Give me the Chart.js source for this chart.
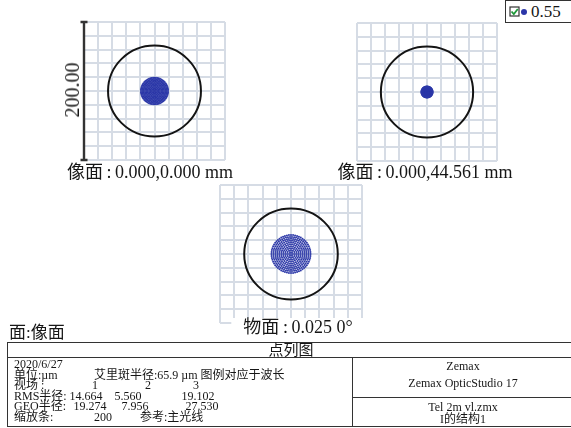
<!DOCTYPE html>
<html>
<head>
<meta charset="utf-8">
<script src="https://cdn.jsdelivr.net/npm/chart.js@4.4.1/dist/chart.umd.min.js"></script>
<style>
  body{margin:0;width:571px;height:428px;overflow:hidden;background:#fff;position:relative;
       font-family:"Liberation Serif","Noto Sans CJK SC",serif;color:#161616}
  .box{position:absolute}
  .cap{position:absolute;font-size:18px;line-height:18px;white-space:nowrap;transform:translateX(-50%)}
  .t{position:absolute;font-size:12px;line-height:11px;white-space:nowrap}
  .c{transform:translateX(-50%)}
  #legend{position:absolute;left:505px;top:0;width:80px;height:23px;border:1.5px solid #333;box-sizing:border-box}
  #tbl{position:absolute;left:7px;top:342px;width:590px;height:85px;border:1.5px solid #333;box-sizing:border-box}
</style>
</head>
<body>

<div class="box" style="left:80px;top:18px"><canvas id="spot1" width="149" height="146"></canvas></div>
<div class="box" style="left:353px;top:19px"><canvas id="spot2" width="148" height="146"></canvas></div>
<div class="box" style="left:216px;top:181px"><canvas id="spot3" width="150" height="146"></canvas></div>

<div class="cap" style="left:72px;top:90px;transform:translate(-50%,-50%) rotate(-90deg);font-size:20px">200.00</div>

<div class="cap" style="left:150px;top:163px">像面&thinsp;:&thinsp;0.000,0.000 mm</div>
<div class="cap" style="left:425px;top:163px">像面&thinsp;:&thinsp;0.000,44.561 mm</div>
<div class="cap" style="left:298px;top:318px;background:#fff;padding:0 12px">物面&thinsp;:&thinsp;0.025 0°</div>
<div class="cap" style="left:9px;top:324px;transform:none;font-size:17px">面:像面</div>

<div id="legend">
  <svg width="12" height="12" style="position:absolute;left:3px;top:5px">
    <rect x="1" y="1" width="9" height="9" fill="#fff" stroke="#333" stroke-width="1.2"/>
    <path d="M2.5 5.5 L4.8 8 L8.8 3" fill="none" stroke="#1f9a3a" stroke-width="1.8"/>
  </svg>
  <div style="position:absolute;left:15px;top:8px;width:6px;height:6px;border-radius:50%;background:#2b35a8"></div>
  <div style="position:absolute;left:25px;top:2px;font-size:17px;line-height:18px">0.55</div>
</div>

<div id="tbl"></div>
<div class="box" style="left:7px;top:357px;width:570px;border-top:1.5px solid #333"></div>
<div class="box" style="left:352px;top:357px;height:69px;border-left:1.5px solid #333"></div>
<div class="box" style="left:352px;top:397px;width:230px;border-top:1.5px solid #333"></div>
<div class="t c" style="left:291px;top:343px;font-size:15px;line-height:14px">点列图</div>

<div id="info"></div>

<script>
// spot diagram data (units: µm)
const fieldNames = ['1', '2', '3'];
const rmsRadius = [14.664, 5.560, 19.102];
const geoRadius = [19.274, 7.956, 27.530];
const airyRadius = 65.9;
const scaleBar = 200;
const gridStep = 20;
const wavelengths = ['0.55'];
const ringCount = 10; // hexapolar sampling rings

// hexapolar ray pattern scaled to the GEO radius of each field
function spotRays(rGeo){
  const pts = [{x:0, y:0}];
  for(let i = 1; i <= ringCount; i++){
    const r = rGeo * i / ringCount;
    const n = 6 * i;
    for(let k = 0; k < n; k++){
      const a = 2 * Math.PI * k / n;
      pts.push({x: r * Math.cos(a), y: r * Math.sin(a)});
    }
  }
  return pts;
}

// airy disk ring drawn around the chief ray
const airyPlugin = {
  id: 'airy',
  afterDatasetsDraw(chart){
    const {ctx, scales:{x, y}} = chart;
    const cx = x.getPixelForValue(0), cy = y.getPixelForValue(0);
    const rx = x.getPixelForValue(airyRadius) - cx;
    const ry = cy - y.getPixelForValue(airyRadius);
    ctx.save();
    ctx.strokeStyle = '#141414';
    ctx.lineWidth = 2;
    ctx.beginPath();
    ctx.ellipse(cx, cy, rx, ry, 0, 0, Math.PI * 2);
    ctx.stroke();
    ctx.restore();
  }
};

// vertical scale bar spanning the full box
const barPlugin = {
  id: 'scalebar',
  afterDraw(chart, args, opts){
    if(!opts.show) return;
    const {ctx, scales:{x, y}} = chart;
    const px = x.getPixelForValue(-scaleBar / 2);
    const top = y.getPixelForValue(scaleBar / 2), bot = y.getPixelForValue(-scaleBar / 2);
    ctx.save();
    ctx.strokeStyle = '#333';
    ctx.lineWidth = 2.4;
    ctx.beginPath();
    ctx.moveTo(px, top); ctx.lineTo(px, bot);
    ctx.moveTo(px - 3.5, top); ctx.lineTo(px + 3.5, top);
    ctx.moveTo(px - 3.5, bot); ctx.lineTo(px + 3.5, bot);
    ctx.stroke();
    ctx.restore();
  }
};

function makeSpot(id, field, showBar){
  const axis = {
    type: 'linear', min: -scaleBar / 2, max: scaleBar / 2,
    ticks: {display: false, stepSize: gridStep},
    grid: {color: '#d6dce5', lineWidth: 2, drawTicks: false},
    border: {display: false}
  };
  return new Chart(document.getElementById(id), {
    type: 'scatter',
    data: {datasets: [{
      label: wavelengths[0],
      data: spotRays(geoRadius[field]),
      pointRadius: 1, pointHoverRadius: 1,
      pointBackgroundColor: '#2c38a8', pointBorderWidth: 0
    }]},
    options: {
      responsive: false, animation: false,
      layout: {padding: 4},
      plugins: {legend: {display: false}, tooltip: {enabled: false}, scalebar: {show: showBar}},
      scales: {x: {...axis}, y: {...axis}}
    },
    plugins: [airyPlugin, barPlugin]
  });
}

makeSpot('spot1', 0, true);
makeSpot('spot2', 1, false);
makeSpot('spot3', 2, false);

// text block of the info panel
const info = document.getElementById('info');
function put(txt, x, y, cls){
  const d = document.createElement('div');
  d.className = 't' + (cls ? ' ' + cls : '');
  d.style.left = x + 'px';
  d.style.top = y + 'px';
  d.textContent = txt;
  info.appendChild(d);
}
const rowY = [359, 369.5, 380, 390.5, 401, 411.5];
const colX = [95, 148, 196];
put('2020/6/27', 14, rowY[0]);
put('单位:µm', 14, rowY[1]);
put('艾里斑半径:' + airyRadius + ' µm  图例对应于波长', 94, rowY[1]);
put('视场   :', 14, rowY[2]);
fieldNames.forEach((f, i) => put(f, colX[i], rowY[2], 'c'));
put('RMS半径:', 14, rowY[3]);
const rmsX = [86, 128, 198];
rmsRadius.forEach((v, i) => put(v.toFixed(3), rmsX[i], rowY[3], 'c'));
put('GEO半径:', 14, rowY[4]);
const geoX = [90, 135, 202];
geoRadius.forEach((v, i) => put(v.toFixed(3), geoX[i], rowY[4], 'c'));
put('缩放条:', 14, rowY[5]);
put(String(scaleBar), 103, rowY[5], 'c');
put('参考:主光线', 140, rowY[5]);

put('Zemax', 463, 361, 'c');
put('Zemax OpticStudio 17', 463, 378, 'c');
put('Tel 2m vl.zmx', 463, 402, 'c');
put('I的结构1', 463, 414, 'c');
</script>
</body>
</html>
